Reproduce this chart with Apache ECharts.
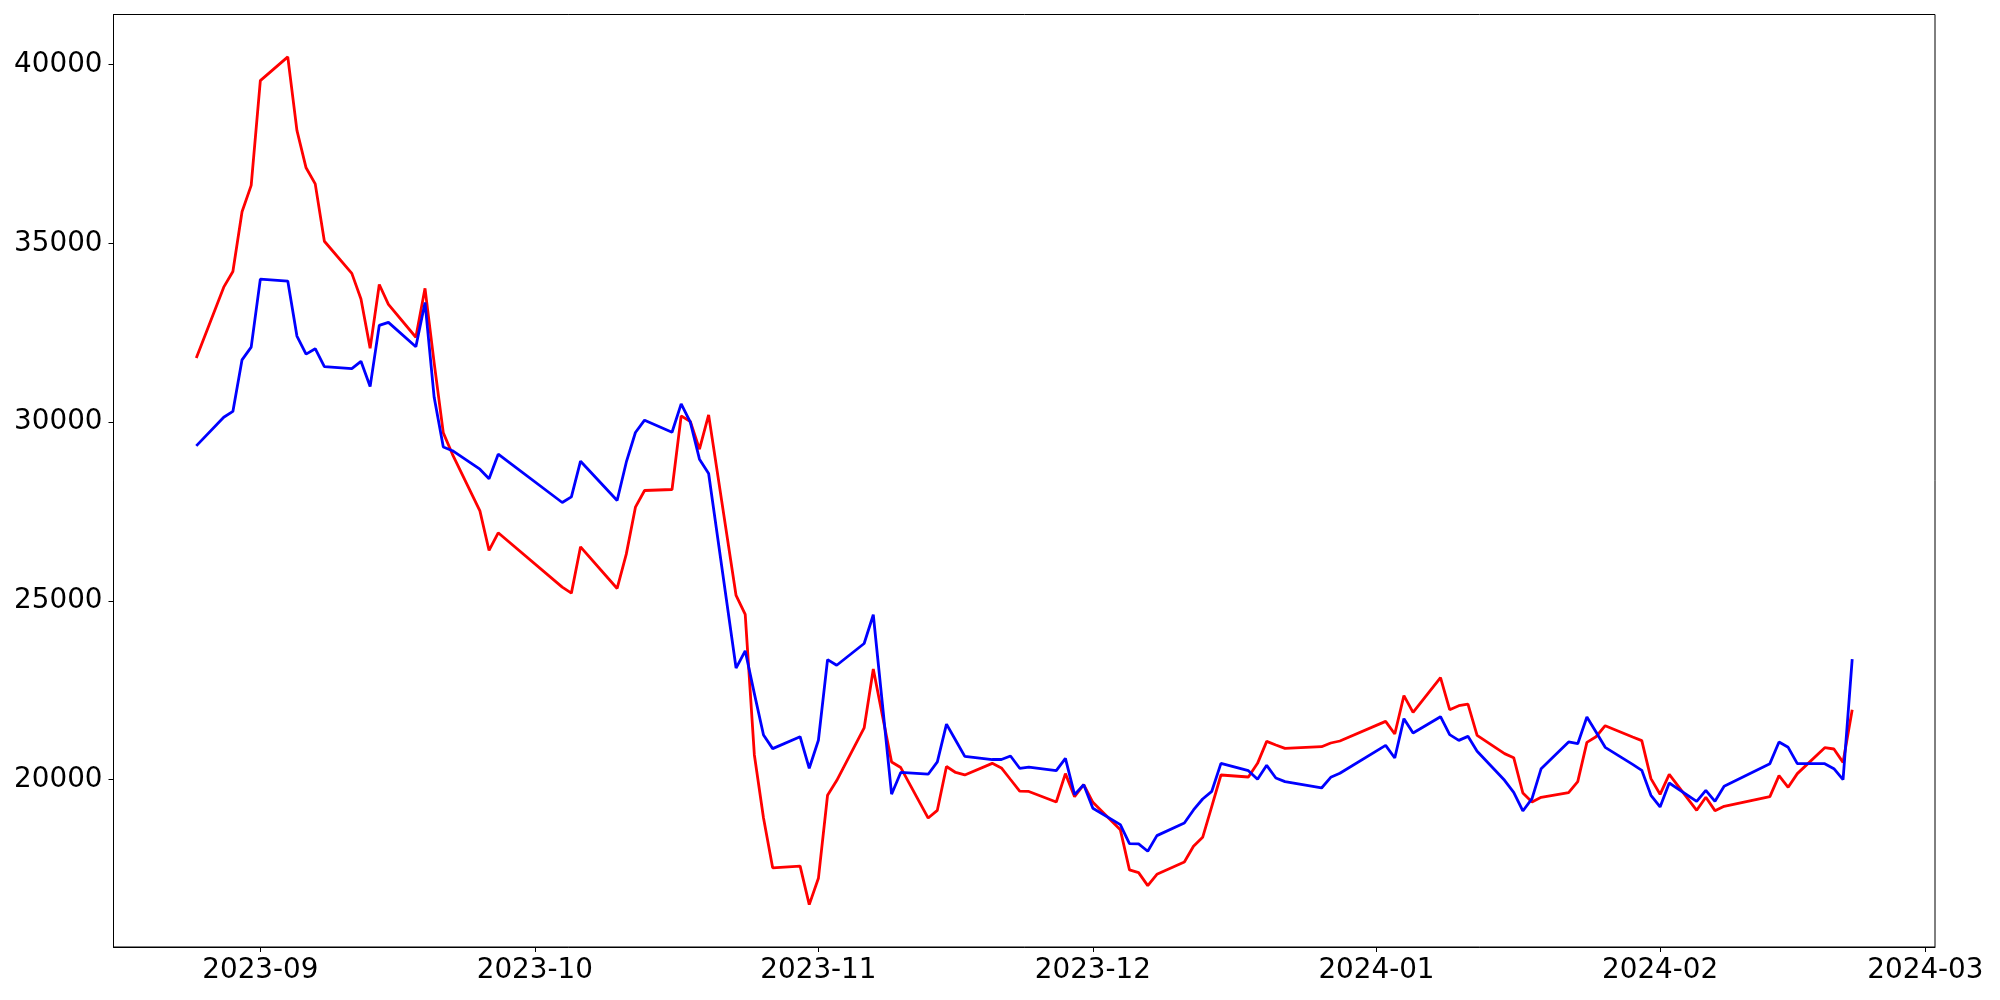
<!DOCTYPE html>
<html><head><meta charset="utf-8">
<script src="https://cdn.jsdelivr.net/npm/echarts@6/dist/echarts.min.js"></script>
<style>html,body{margin:0;padding:0;background:#fff}#c{width:2000px;height:1000px}</style>
</head><body><div id="c"></div>
<script>
const dates = [
'2023-08-25','2023-08-28','2023-08-29','2023-08-30','2023-08-31','2023-09-01',
'2023-09-04','2023-09-05','2023-09-06','2023-09-07','2023-09-08',
'2023-09-11','2023-09-12','2023-09-13','2023-09-14','2023-09-15',
'2023-09-18','2023-09-19','2023-09-20','2023-09-21','2023-09-22',
'2023-09-25','2023-09-26','2023-09-27',
'2023-10-04','2023-10-05','2023-10-06',
'2023-10-10','2023-10-11','2023-10-12','2023-10-13',
'2023-10-16','2023-10-17','2023-10-18','2023-10-19','2023-10-20',
'2023-10-23','2023-10-24','2023-10-25','2023-10-26','2023-10-27',
'2023-10-30','2023-10-31','2023-11-01','2023-11-02','2023-11-03',
'2023-11-06','2023-11-07','2023-11-08','2023-11-09','2023-11-10',
'2023-11-13','2023-11-14','2023-11-15','2023-11-16','2023-11-17',
'2023-11-20','2023-11-21','2023-11-22','2023-11-23','2023-11-24',
'2023-11-27','2023-11-28','2023-11-29','2023-11-30','2023-12-01',
'2023-12-04','2023-12-05','2023-12-06','2023-12-07','2023-12-08',
'2023-12-11','2023-12-12','2023-12-13','2023-12-14','2023-12-15',
'2023-12-18','2023-12-19','2023-12-20','2023-12-21','2023-12-22',
'2023-12-26','2023-12-27','2023-12-28',
'2024-01-02','2024-01-03','2024-01-04','2024-01-05',
'2024-01-08','2024-01-09','2024-01-10','2024-01-11','2024-01-12',
'2024-01-15','2024-01-16','2024-01-17','2024-01-18','2024-01-19',
'2024-01-22','2024-01-23','2024-01-24','2024-01-25','2024-01-26',
'2024-01-29','2024-01-30','2024-01-31','2024-02-01','2024-02-02',
'2024-02-05','2024-02-06','2024-02-07','2024-02-08',
'2024-02-13','2024-02-14','2024-02-15','2024-02-16',
'2024-02-19','2024-02-20','2024-02-21','2024-02-22'
];
const redValues = [
31795,33774,34213,35881,36620,39550,
40214,38160,37112,36662,35058,
34159,33442,32063,33849,33293,
32373,33742,31656,29699,29100,
27518,26410,26904,
25385,25217,26512,
25347,26307,27621,28087,
28115,30174,30015,29242,30202,
25152,24620,20691,18926,17534,
17583,16505,17240,19564,19975,
21446,23093,21789,20495,20338,
18926,19142,20367,20201,20132,
20456,20328,20004,19681,19670,
19376,20168,19525,19860,19366,
18602,17475,17400,17037,17354,
17699,18136,18388,19254,20130,
20074,20456,21071,20969,20876,
20922,21025,21081,
21630,21276,22348,21882,
22851,21956,22068,22115,21239,
20727,20615,19627,19376,19506,
19637,19944,21043,21200,21509,
21192,21090,20028,19590,20149,
19143,19506,19133,19255,
19525,20112,19786,20168,
20894,20857,20484,21956
];
const blueValues = [
29335,30137,30298,31742,32095,33999,
33945,32405,31902,32052,31549,
31496,31699,30993,32704,32790,
32105,33346,30693,29303,29200,
28683,28413,29102,
27751,27910,28907,
27807,28878,29708,30053,
29717,30509,29997,28962,28562,
23121,23603,22406,21249,20867,
21200,20318,21102,23357,23200,
23808,24612,22102,19593,20201,
20152,20495,21553,21102,20651,
20563,20563,20661,20318,20350,
20251,20596,19581,19860,19199,
18742,18211,18202,17997,18435,
18789,19152,19459,19674,20456,
20251,20009,20400,20046,19944,
19767,20065,20177,
20959,20606,21705,21304,
21761,21258,21099,21211,20792,
19981,19646,19124,19469,20307,
21053,21006,21751,21332,20904,
20428,20261,19562,19236,19907,
19394,19702,19394,19813,
20447,21053,20904,20447,
20447,20307,20000,23373
];
const xTickLabels = ['2023-09','2023-10','2023-11','2023-12','2024-01','2024-02','2024-03'];
const yTickValues = [20000,25000,30000,35000,40000];

function ts(s){ const p=s.split('-').map(Number); return Date.UTC(p[0],p[1]-1,p[2]||1); }
const xTickVals = xTickLabels.map(ts);
const t0 = ts(dates[0]), t1 = ts(dates[dates.length-1]);
const xPad = (t1-t0)*0.05;
const allV = redValues.concat(blueValues);
const vMin = Math.min.apply(null, allV), vMax = Math.max.apply(null, allV);
const yPad = (vMax-vMin)*0.05;

const font = {fontSize:27.8, fontFamily:'DejaVu Sans', color:'#000'};
const chart = echarts.init(document.getElementById('c'), null, {renderer:'canvas'});
chart.setOption({
  animation:false,
  backgroundColor:'#fff',
  grid:{left:113.5, right:65, top:14.5, bottom:53, show:true, borderColor:'#000', borderWidth:1, backgroundColor:'transparent'},
  xAxis:{
    type:'value', min:t0-xPad, max:t1+xPad, scale:true,
    splitLine:{show:false},
    axisLine:{show:true, onZero:false, lineStyle:{color:'#000', width:1}},
    axisTick:{show:true, customValues:xTickVals, length:5, lineStyle:{color:'#000', width:1}},
    axisLabel:Object.assign({customValues:xTickVals, margin:10, hideOverlap:false,
      formatter:function(v){ const i = xTickVals.indexOf(+v); return i>=0 ? xTickLabels[i] : ''; }}, font)
  },
  yAxis:{
    type:'value', min:vMin-yPad, max:vMax+yPad, scale:true,
    splitLine:{show:false},
    axisLine:{show:true, onZero:false, lineStyle:{color:'#000', width:1}},
    axisTick:{show:true, customValues:yTickValues, length:5, lineStyle:{color:'#000', width:1}},
    axisLabel:Object.assign({customValues:yTickValues, margin:11, formatter:function(v){return String(v);}}, font)
  },
  series:[
    {type:'line', name:'red', data:dates.map((d,i)=>[ts(d), redValues[i]]), showSymbol:false,
     lineStyle:{color:'#ff0000', width:2.8}, itemStyle:{color:'#ff0000'}, z:2},
    {type:'line', name:'blue', data:dates.map((d,i)=>[ts(d), blueValues[i]]), showSymbol:false,
     lineStyle:{color:'#0000ff', width:2.8}, itemStyle:{color:'#0000ff'}, z:3}
  ]
});
</script>
</body></html>
